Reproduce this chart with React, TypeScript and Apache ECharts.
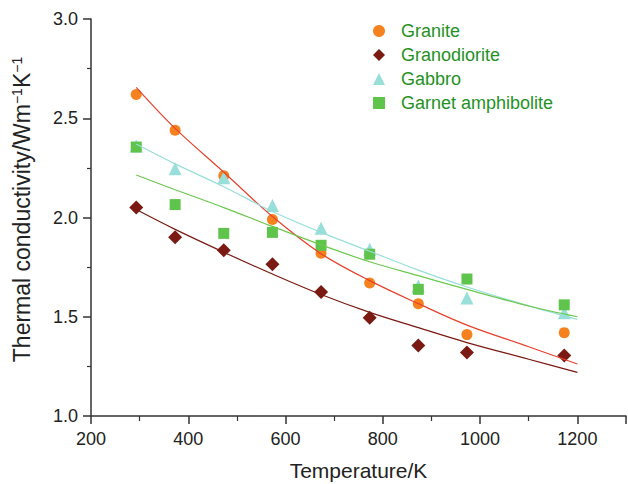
import React, { useEffect, useRef } from "react";
import * as echarts from "echarts";

// Measured data (temperature in K, thermal conductivity in W m^-1 K^-1)
const temps = [293, 373, 473, 573, 673, 773, 873, 973, 1173];
const granite = [2.62, 2.44, 2.21, 1.99, 1.82, 1.67, 1.565, 1.41, 1.42];
const granodiorite = [2.05, 1.9, 1.835, 1.765, 1.625, 1.495, 1.355, 1.32, 1.305];
const gabbro = [2.36, 2.245, 2.2, 2.06, 1.946, 1.84, 1.655, 1.595, 1.52];
const garnet = [2.355, 2.065, 1.92, 1.925, 1.86, 1.815, 1.638, 1.69, 1.56];

// Fitted curves
const fitTemps = [293, 373, 473, 573, 673, 773, 873, 973, 1100, 1200];
const graniteFit = [2.656, 2.449, 2.228, 2.005, 1.818, 1.682, 1.566, 1.458, 1.349, 1.262];
const granodioriteFit = [2.04, 1.94, 1.825, 1.715, 1.612, 1.522, 1.445, 1.37, 1.286, 1.22];
const gabbroFit = [2.37, 2.27, 2.155, 2.03, 1.925, 1.83, 1.735, 1.65, 1.555, 1.487];
const garnetFit = [2.214, 2.14, 2.05, 1.955, 1.862, 1.777, 1.707, 1.638, 1.554, 1.5];

const seriesNames = ["Granite", "Granodiorite", "Gabbro", "Garnet amphibolite"];
const xTickLabels = [200, 400, 600, 800, 1000, 1200];

const FONT = "Liberation Sans, Arial, Helvetica, sans-serif";
const AXIS_COLOR = "#333333";
const TEXT_COLOR = "#222222";

const zip = (xs: number[], ys: number[]) => xs.map((x, i) => [x, ys[i]]);

export default function App() {
  const ref = useRef<HTMLDivElement>(null);

  useEffect(() => {
    if (!ref.current) return;
    const chart = echarts.init(ref.current, null, { renderer: "svg" });

    const scatter = (name: string, data: number[], symbol: string, size: number, color: string, z: number) => ({
      name,
      type: "scatter",
      data: zip(temps, data),
      symbol,
      symbolSize: size,
      itemStyle: { color, opacity: 1 },
      z,
    });
    const fit = (data: number[], color: string) => ({
      type: "line",
      data: zip(fitTemps, data),
      smooth: 0.35,
      showSymbol: false,
      symbol: "none",
      lineStyle: { color, width: 1.2 },
      z: 5,
      silent: true,
    });

    chart.setOption({
      animation: false,
      backgroundColor: "#ffffff",
      textStyle: { fontFamily: FONT },
      grid: { left: 91, top: 19, right: 2, bottom: 68, containLabel: false, outerBoundsMode: "none" },
      legend: {
        data: seriesNames,
        orient: "vertical",
        left: 368,
        top: 17,
        itemWidth: 12,
        itemHeight: 12,
        itemGap: 6,
        symbolKeepAspect: true,
        textStyle: { fontSize: 18, color: "#1f921f", fontFamily: FONT, padding: [0, 0, 0, 11] },
        selectedMode: false,
      },
      xAxis: {
        type: "value",
        min: 200,
        max: 1300,
        interval: 200,
        name: "Temperature/K",
        nameLocation: "middle",
        nameGap: 44,
        nameTextStyle: { fontSize: 21, color: TEXT_COLOR, fontFamily: FONT },
        axisLine: { show: true, lineStyle: { color: AXIS_COLOR, width: 1.5 } },
        axisTick: { show: true, length: 8, lineStyle: { color: AXIS_COLOR, width: 1.5 } },
        minorTick: { show: true, splitNumber: 2, length: 5, lineStyle: { color: AXIS_COLOR, width: 1.2 } },
        axisLabel: {
          fontSize: 18,
          color: TEXT_COLOR,
          margin: 14,
          fontFamily: FONT,
          showMaxLabel: false,
          formatter: (v: number) => (xTickLabels.indexOf(v) >= 0 ? String(v) : ""),
        },
        splitLine: { show: false },
        minorSplitLine: { show: false },
      },
      yAxis: {
        type: "value",
        min: 1,
        max: 3,
        interval: 0.5,
        name: "Thermal conductivity/Wm{sup|−1}K{sup|−1}",
        nameLocation: "middle",
        nameGap: 58,
        nameTextStyle: {
          fontSize: 23,
          color: TEXT_COLOR,
          fontFamily: FONT,
          padding: [0, 0, 0, 16],
          rich: {
            sup: { fontSize: 14, color: TEXT_COLOR, fontFamily: FONT, verticalAlign: "top", lineHeight: 23 },
          },
        },
        axisLine: { show: true, lineStyle: { color: AXIS_COLOR, width: 1.5 } },
        axisTick: { show: true, length: 8, lineStyle: { color: AXIS_COLOR, width: 1.5 } },
        minorTick: { show: true, splitNumber: 2, length: 4, lineStyle: { color: AXIS_COLOR, width: 1.2 } },
        axisLabel: {
          fontSize: 18,
          color: TEXT_COLOR,
          margin: 13,
          fontFamily: FONT,
          formatter: (v: number) => v.toFixed(1),
        },
        splitLine: { show: false },
        minorSplitLine: { show: false },
      },
      series: [
        scatter(seriesNames[0], granite, "circle", 11, "#f5821f", 2),
        scatter(seriesNames[1], granodiorite, "diamond", 14, "#7a1a12", 3),
        scatter(seriesNames[2], gabbro, "triangle", 13, "#98ded9", 3),
        scatter(seriesNames[3], garnet, "rect", 11, "#5ec44b", 4),
        fit(graniteFit, "#e8412c"),
        fit(granodioriteFit, "#7a1a12"),
        fit(gabbroFit, "#98ded9"),
        fit(garnetFit, "#6cc84f"),
      ],
    });

    return () => chart.dispose();
  }, []);

  return (
    <div
      ref={ref}
      style={{ position: "fixed", left: 0, top: 0, width: 628, height: 484 }}
    />
  );
}
